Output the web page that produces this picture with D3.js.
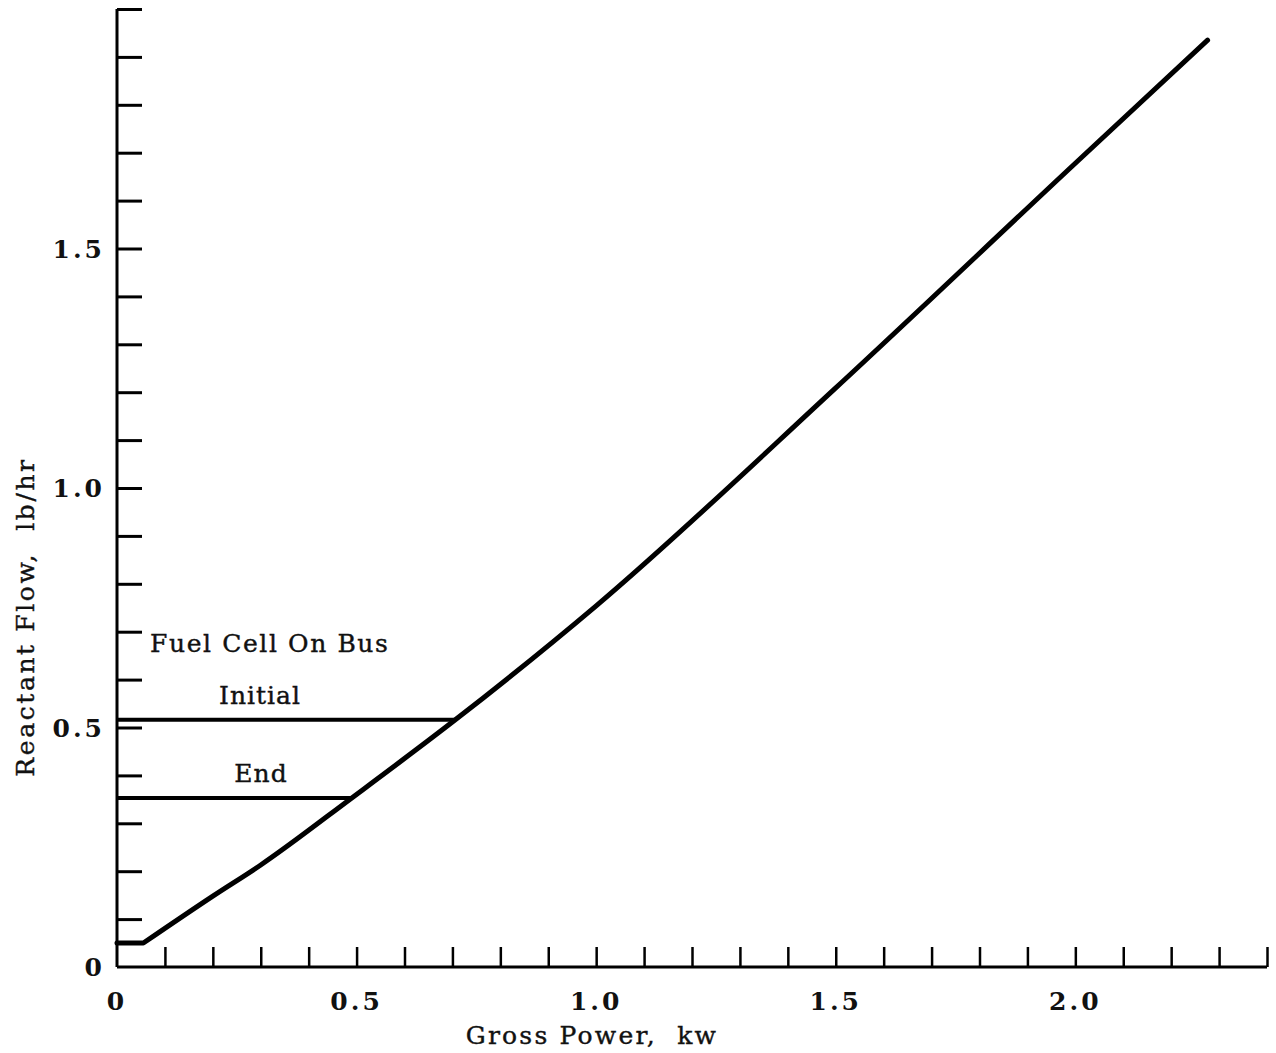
<!DOCTYPE html>
<html>
<head>
<meta charset="utf-8">
<script src="https://cdn.jsdelivr.net/npm/d3@7"></script>
<style>
  html, body { margin: 0; padding: 0; background: #fff; }
  svg text { font-family: "DejaVu Serif", "Liberation Serif", serif; fill: #111; }
</style>
</head>
<body>
<svg id="chart" width="1276" height="1053"></svg>
<script>
// ---- data ----
const powerKw = [0, 0.055, 0.2, 0.3, 0.49, 0.706, 1.0, 1.5, 2.0, 2.276];
const flowLbHr = [0.05, 0.05, 0.148, 0.213, 0.353, 0.516, 0.754, 1.209, 1.678, 1.935];
const refLabels = ["Initial", "End"];
const refFlow = [0.516, 0.353];
const refPower = [0.706, 0.49];
const xTickLabels = ["0", "0.5", "1.0", "1.5", "2.0"];
const xTickLabelVals = [0, 0.5, 1.0, 1.5, 2.0];
const yTickLabels = ["0", "0.5", "1.0", "1.5"];
const yTickLabelVals = [0, 0.5, 1.0, 1.5];
const xMinorTicks = d3.range(1, 25).map(i => i / 10);
const yMinorTicks = d3.range(1, 21).map(i => i / 10);
const annotationTitle = "Fuel Cell On Bus";
const xTitle = "Gross Power,  kw";
const yTitle = "Reactant Flow,  lb/hr";

// ---- layout ----
const svg = d3.select("#chart");
const x = d3.scaleLinear().domain([0, 2.4]).range([117, 1267]);
const y = d3.scaleLinear().domain([0, 2.0]).range([967, 9]);

// axes lines
svg.append("line").attr("x1", x(0)).attr("x2", x(0)).attr("y1", y(0)).attr("y2", y(2.0))
  .attr("stroke", "#000").attr("stroke-width", 3);
svg.append("line").attr("x1", x(0)).attr("x2", x(2.4)).attr("y1", y(0)).attr("y2", y(0))
  .attr("stroke", "#000").attr("stroke-width", 3);

// x ticks (pointing up)
const xAxis = d3.axisBottom(x).tickValues(xMinorTicks).tickSize(-20).tickFormat("");
const gx = svg.append("g").attr("transform", `translate(0,${y(0)})`).call(xAxis);
gx.select(".domain").remove();
gx.selectAll(".tick line").attr("stroke", "#000").attr("stroke-width", 2.5);

// y ticks (pointing right)
const yAxis = d3.axisLeft(y).tickValues(yMinorTicks).tickSize(-25).tickFormat("");
const gy = svg.append("g").attr("transform", `translate(${x(0)},0)`).call(yAxis);
gy.select(".domain").remove();
gy.selectAll(".tick line").attr("stroke", "#000").attr("stroke-width", 3);

// tick labels
svg.selectAll(".xl").data(xTickLabelVals).enter().append("text")
  .attr("x", d => x(d)).attr("y", 1010)
  .attr("text-anchor", "middle").attr("font-size", 25).attr("font-weight", "bold")
  .attr("letter-spacing", 3)
  .text((d, i) => xTickLabels[i]);
svg.selectAll(".yl").data(yTickLabelVals).enter().append("text")
  .attr("x", 105).attr("y", d => y(d) + 9)
  .attr("text-anchor", "end").attr("font-size", 25).attr("font-weight", "bold")
  .attr("letter-spacing", 3)
  .text((d, i) => yTickLabels[i]);

// axis titles
svg.append("text").attr("x", 592).attr("y", 1044).attr("text-anchor", "middle")
  .attr("font-size", 25).attr("letter-spacing", 2.2).attr("stroke", "#111").attr("stroke-width", 0.4)
  .attr("xml:space", "preserve").text(xTitle);
svg.append("text").attr("transform", "translate(34,617) rotate(-90)").attr("text-anchor", "middle")
  .attr("font-size", 25).attr("letter-spacing", 2.6).attr("stroke", "#111").attr("stroke-width", 0.4)
  .attr("xml:space", "preserve").text(yTitle);

// main curve: flat start segment (linear) + smooth rising part
const pts = powerKw.map((p, i) => [p, flowLbHr[i]]);
const lineLin = d3.line().x(d => x(d[0])).y(d => y(d[1])).curve(d3.curveLinear);
const lineSmooth = d3.line().x(d => x(d[0])).y(d => y(d[1])).curve(d3.curveMonotoneX);
const pathD = lineLin(pts.slice(0, 2)) + lineSmooth(pts.slice(1)).replace(/^M/, "L");
svg.append("path")
  .attr("d", pathD)
  .attr("fill", "none").attr("stroke", "#000").attr("stroke-width", 5)
  .attr("stroke-linecap", "round").attr("stroke-linejoin", "round");

// reference horizontal lines
svg.selectAll(".ref").data(refFlow).enter().append("line")
  .attr("x1", x(0)).attr("x2", (d, i) => x(refPower[i]))
  .attr("y1", d => y(d)).attr("y2", d => y(d))
  .attr("stroke", "#000").attr("stroke-width", 4);

// annotations
svg.append("text").attr("x", 150).attr("y", 652).attr("font-size", 25)
  .attr("letter-spacing", 1.6).attr("stroke", "#111").attr("stroke-width", 0.4).text(annotationTitle);
const refLabelX = [260, 261];
svg.selectAll(".rl").data(refLabels).enter().append("text")
  .attr("x", (d, i) => refLabelX[i]).attr("y", (d, i) => y(refFlow[i]) - 16)
  .attr("text-anchor", "middle").attr("font-size", 25).attr("letter-spacing", 1)
  .attr("stroke", "#111").attr("stroke-width", 0.4).text(d => d);
</script>
</body>
</html>
